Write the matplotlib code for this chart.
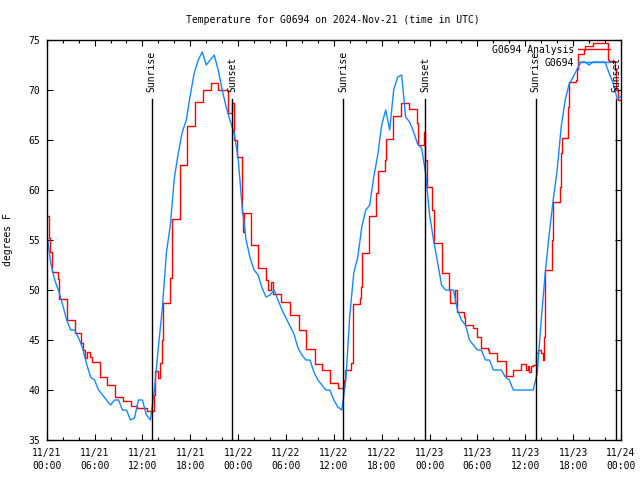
import numpy as np
import matplotlib
matplotlib.use("Agg")
import matplotlib.pyplot as plt

title = "Temperature for G0694 on 2024-Nov-21 (time in UTC)"
ylabel = "degrees F"
obs_label = "G0694"
ana_label = "G0694 Analysis"

# Observations (blue), every 30 minutes from 11/21 00:00 UTC (hours)
obs_hours = np.arange(0, 72.5, 0.5)
obs_temp = [
    55.8, 52.7, 51.0, 49.9, 48.5, 47.0, 46.0, 46.0, 45.2, 44.2,
    42.6, 41.3, 41.0, 40.0, 39.5, 39.0, 38.5, 39.0, 39.0, 38.0,
    38.0, 37.0, 37.2, 39.0, 39.0, 37.5, 37.0, 40.0, 44.3, 48.2,
    53.7, 56.5, 61.2, 63.7, 65.8, 67.0, 69.5, 71.7, 73.0, 73.8,
    72.5, 73.0, 73.5, 72.0, 70.0, 68.3, 66.9, 65.7, 63.2, 58.3,
    55.0, 53.2, 52.0, 51.5, 50.2, 49.3, 49.5, 50.0, 49.0, 48.0,
    47.2, 46.4, 45.6, 44.2, 43.5, 43.0, 43.0, 41.8, 41.0, 40.5,
    40.0, 40.0, 39.0, 38.3, 38.0, 41.0, 47.5, 51.7, 53.3, 56.3,
    58.0, 58.5, 61.3, 63.5, 66.5, 68.0, 66.0, 70.0, 71.3, 71.5,
    67.3, 66.8, 65.8, 64.6, 64.2, 61.7, 57.5, 55.0, 52.8, 50.5,
    50.0, 50.0, 50.0, 48.0, 47.0, 46.5, 45.0, 44.5, 44.0, 44.0,
    43.0, 43.0, 42.0, 42.0, 42.0, 41.3, 41.0, 40.0, 40.0, 40.0,
    40.0, 40.0, 40.0, 41.7, 47.0, 51.7, 55.6, 59.0, 62.0, 66.3,
    69.0, 70.6, 71.3, 72.1, 72.8, 72.8, 72.5, 72.8, 72.8, 72.8,
    72.8, 71.7, 70.7, 69.2, 69.3,
]

# Analysis (red), step changes: (hour, value)
ana_hours = [
    0, 0.25, 0.45, 0.7, 1.45, 1.55, 2.6, 3.55, 4.3, 4.55, 4.85, 5.1, 5.4, 5.7,
    6.65, 7.55, 8.6, 9.6, 10.55, 11.3, 12.55, 13.5, 13.6, 14.0, 14.2, 14.4,
    14.6, 15.5, 15.65, 16.65, 16.75, 17.55, 18.55, 19.6, 20.55, 21.5, 22.7,
    23.25, 23.45, 23.8, 24.45, 24.6, 24.75, 25.55, 26.55, 27.55, 27.8, 28.1,
    28.4, 29.4, 30.5, 31.6, 32.55, 33.6, 34.55, 35.55, 36.5, 37.3, 37.45,
    38.2, 38.35, 38.45, 39.3, 39.45, 39.55, 40.4, 41.3, 41.55, 42.4, 42.55,
    43.4, 44.45, 45.45, 46.4, 46.55, 47.25, 47.4, 47.7, 48.35, 48.55, 49.5,
    50.45, 50.6, 51.25, 51.4, 51.5, 52.3, 52.45, 53.4, 53.9, 54.4, 55.3,
    55.5, 56.5, 57.55, 58.4, 59.5, 60.15, 60.35, 60.5, 60.75, 61.0, 61.4,
    61.65, 62.0, 62.25, 62.4, 62.5, 63.35, 63.45, 64.3, 64.45, 64.55, 65.35,
    65.45, 66.4, 66.5, 66.55, 67.35, 67.45, 68.45, 70.35, 70.5, 71.3, 71.4,
    71.6, 72.0,
]
ana_temp = [
    57.4, 55.2, 53.8, 51.8, 51.1, 49.1, 47.0, 45.7, 44.7, 44.0, 43.2, 43.8, 43.3, 42.8,
    41.3, 40.5, 39.3, 38.9, 38.4, 38.2, 37.9, 39.5, 41.9, 41.2, 42.7, 45.0,
    48.7, 51.2, 57.1, 61.0, 62.5, 66.4, 68.8, 70.0, 70.7, 70.0, 67.7,
    68.7, 65.0, 63.3, 57.7, 55.8, 57.7, 54.5, 52.2, 51.0, 50.0, 50.8,
    49.6, 48.8, 47.5, 46.0, 44.1, 42.6, 42.0, 40.7, 40.2, 41.0, 42.0,
    42.7, 44.3, 48.6, 49.2, 50.3, 53.7, 57.4, 59.7, 61.9, 63.0, 65.1,
    67.4, 68.7, 68.1, 66.7, 64.5, 65.8, 63.0, 60.3, 58.0, 54.7, 51.7,
    50.0, 48.7, 50.0, 49.3, 47.8, 47.3, 46.5, 46.2, 45.3, 44.2, 44.0,
    43.7, 42.9, 41.4, 42.0, 42.6, 42.0, 42.4, 41.8, 42.4, 42.5, 43.7,
    44.0, 43.7, 43.0, 45.3, 52.0, 55.0, 58.8, 60.3, 63.7, 65.2, 68.3,
    70.8, 71.0, 72.1, 73.6, 74.0, 74.4, 74.7, 73.0, 72.9, 72.0, 70.0,
    69.0, 69.0,
]

sunrise_hours = [13.17, 37.19, 61.3]
sunset_hours = [23.27, 47.43, 71.4]

xtick_hours = list(range(0, 73, 6))
xtick_labels = [
    "11/21\n00:00", "11/21\n06:00", "11/21\n12:00", "11/21\n18:00",
    "11/22\n00:00", "11/22\n06:00", "11/22\n12:00", "11/22\n18:00",
    "11/23\n00:00", "11/23\n06:00", "11/23\n12:00", "11/23\n18:00",
    "11/24\n00:00",
]
yticks = [35, 40, 45, 50, 55, 60, 65, 70, 75]

plt.rcParams['font.family'] = ['DejaVu Sans Mono']
plt.rcParams['font.size'] = 7

fig = plt.figure(figsize=(6.4, 4.8), dpi=100)
ax = fig.add_axes([0.073, 0.0833, 0.9703 - 0.073, 0.8334])

ax.plot(ana_hours, ana_temp, color='#ff0000', lw=1.0, drawstyle='steps-post', label=ana_label)
ax.plot(obs_hours, obs_temp, color='#1488ff', lw=1.0, label=obs_label)

for h in sunrise_hours:
    ax.plot([h, h], [35, 69.05], color='black', lw=1.0)
    ax.text(h, 69.8, "Sunrise", rotation=90, ha='center', va='bottom', fontsize=7)
for h in sunset_hours:
    ax.plot([h, h], [35, 69.05], color='black', lw=1.0)
    ax.text(h, 69.8, "Sunset", rotation=90, ha='center', va='bottom', fontsize=7)

ax.set_xlim(0, 72)
ax.set_ylim(35, 75)
ax.set_xticks(xtick_hours)
ax.set_xticklabels(xtick_labels, linespacing=1.35)
ax.set_xticks(np.arange(0, 73, 2), minor=True)
ax.set_yticks(yticks)
ax.set_yticklabels([str(v) for v in yticks])
ax.tick_params(axis='both', which='major', direction='in', length=4, width=0.8,
               top=True, right=True, pad=5, labelsize=7)
ax.tick_params(axis='x', which='major', pad=6)
ax.tick_params(axis='x', which='minor', direction='in', length=2, width=0.8, top=True)
ax.tick_params(axis='y', which='minor', left=False, right=False)
for s in ax.spines.values():
    s.set_linewidth(1.0)

ax.set_ylabel(ylabel, fontsize=7, labelpad=11)
fig.suptitle(title, x=0.52, y=0.968, fontsize=7)

leg = ax.legend(loc='upper right', frameon=False, markerfirst=False, fontsize=7,
                handlelength=3.3, handletextpad=0.4, labelspacing=0.3,
                bbox_to_anchor=(0.988, 0.9975), borderaxespad=0.0)

fig.savefig("out.png", dpi=100)
